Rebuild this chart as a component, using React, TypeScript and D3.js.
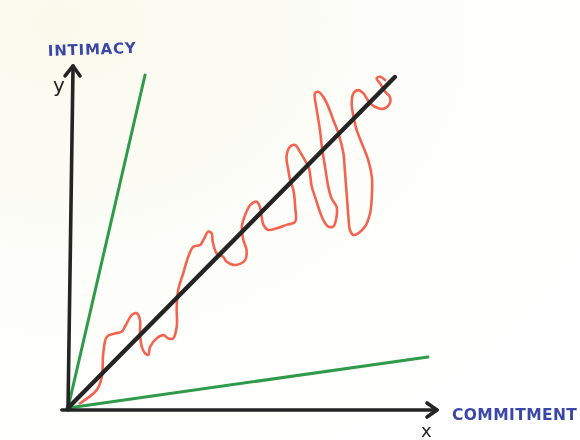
import React from "react";
import * as d3 from "d3";

// Data (units 0–100 on both axes)
const xAxisLine: [number, number][] = [[-1.7, -0.6], [102.5, -0.6]];
const yAxisLine: [number, number][] = [[0, -0.6], [1.4, 101.8]];
const diagonal: [number, number][] = [[0, 0], [90.8, 98.5]];
const greenUpper: [number, number][] = [[0, 0], [21.4, 99.1]];
const greenLower: [number, number][] = [[0, 0], [100, 15.2]];

const squiggleX = [
  3.3, 8.0, 9.4, 9.8, 10.8, 13.1, 14.9, 16.3, 17.7, 19.1, 20.0, 20.0, 20.5, 21.4, 22.3, 22.8, 24.6, 26.5, 27.9, 29.2,
  30.2, 30.2, 30.6, 32.0, 33.4, 34.8, 36.7, 37.6, 39.0, 39.9, 40.2, 41.3, 43.1, 44.1, 45.9, 47.8, 49.2, 49.6, 48.7, 48.3,
  49.2, 50.6, 52.4, 53.3, 53.8, 54.3, 55.6, 58.0, 60.7, 63.1, 63.1, 62.6, 61.7, 61.2, 60.7, 61.7, 63.1, 64.4, 65.8, 66.8,
  67.2, 67.7, 68.6, 69.5, 70.9, 72.3, 73.7, 74.6, 74.6, 73.2, 72.3, 71.4, 70.5, 70.0, 69.1, 68.6, 69.5, 70.9, 72.3, 73.7,
  75.1, 76.5, 76.9, 77.4, 77.9, 78.3, 79.2, 80.6, 82.5, 83.9, 84.4, 84.4, 83.4, 81.6, 80.2, 79.3, 78.8, 79.3, 80.6, 82.0,
  83.9, 86.2, 88.1, 89.4, 89.4, 88.1, 86.7, 85.7, 86.7, 88.1,
];
const squiggleY = [
  1.4, 5.4, 9.3, 16.3, 21.2, 22.2, 22.7, 25.2, 27.7, 28.2, 26.2, 22.2, 18.2, 16.3, 15.8, 18.2, 20.7, 21.7, 20.7, 20.7,
  24.2, 30.1, 35.1, 40.1, 45.0, 48.0, 48.5, 50.0, 52.5, 52.0, 49.5, 46.0, 45.0, 43.5, 42.6, 42.9, 44.0, 47.0, 50.0, 54.0,
  57.4, 60.4, 61.4, 59.9, 56.9, 54.5, 53.0, 53.5, 54.5, 55.4, 59.9, 64.9, 67.9, 70.8, 74.8, 77.8, 78.3, 76.3, 73.8, 71.8,
  69.9, 65.9, 62.9, 59.9, 56.0, 54.0, 54.0, 56.9, 59.9, 62.4, 65.9, 71.8, 77.8, 82.7, 88.7, 93.7, 94.1, 92.6, 89.7, 85.7,
  81.8, 75.8, 70.8, 63.9, 56.9, 53.0, 51.5, 52.0, 54.0, 57.9, 62.9, 68.8, 73.8, 78.8, 82.7, 86.7, 90.7, 93.7, 94.6, 93.7,
  90.7, 89.2, 89.2, 90.7, 92.6, 94.1, 96.6, 98.1, 98.6, 97.6,
];

const yLabel = "INTIMACY";
const xLabel = "COMMITMENT";

const W = 580;
const H = 440;

export default function App() {
  const x = d3.scaleLinear().domain([0, 100]).range([68, 428]);
  const y = d3.scaleLinear().domain([0, 100]).range([408, 72]);
  const line = d3
    .line<[number, number]>()
    .x((d) => x(d[0]))
    .y((d) => y(d[1]));
  const squiggle = squiggleX.map((v, i) => [v, squiggleY[i]] as [number, number]);
  const curve = d3
    .line<[number, number]>()
    .x((d) => x(d[0]))
    .y((d) => y(d[1]))
    .curve(d3.curveCatmullRom.alpha(0.5));

  const yTop = yAxisLine[1];
  const xEnd = xAxisLine[1];
  const ink = "#242424";
  const green = "#2f9a4a";
  const red = "#f26450";
  const blue = "#3b47a6";

  return (
    <svg
      width={W}
      height={H}
      style={{ position: "fixed", left: 0, top: 0 }}
      xmlns="http://www.w3.org/2000/svg"
    >
      <defs>
        <radialGradient id="bg" cx="0.1" cy="0.05" r="1.1">
          <stop offset="0" stopColor="#f9f9ec" />
          <stop offset="0.5" stopColor="#fdfdf9" />
          <stop offset="1" stopColor="#ffffff" />
        </radialGradient>
      </defs>
      <rect width={W} height={H} fill="url(#bg)" />

      {/* green lines */}
      <path d={line(greenUpper) ?? ""} stroke={green} strokeWidth={3} fill="none" strokeLinecap="round" />
      <path d={line(greenLower) ?? ""} stroke={green} strokeWidth={3} fill="none" strokeLinecap="round" />

      {/* red squiggle */}
      <path
        d={curve(squiggle) ?? ""}
        stroke={red}
        strokeWidth={2.6}
        fill="none"
        strokeLinecap="round"
        strokeLinejoin="round"
      />

      {/* axes */}
      <path d={line(yAxisLine) ?? ""} stroke={ink} strokeWidth={3.6} fill="none" strokeLinecap="round" />
      <path d={line(xAxisLine) ?? ""} stroke={ink} strokeWidth={3.6} fill="none" strokeLinecap="round" />
      <path
        d={`M${x(yTop[0]) - 8},${y(yTop[1]) + 10} L${x(yTop[0])},${y(yTop[1])} L${x(yTop[0]) + 7},${y(yTop[1]) + 10}`}
        stroke={ink}
        strokeWidth={3.6}
        fill="none"
        strokeLinecap="round"
        strokeLinejoin="round"
      />
      <path
        d={`M${x(xEnd[0]) - 10},${y(xEnd[1]) - 7} L${x(xEnd[0])},${y(xEnd[1])} L${x(xEnd[0]) - 10},${y(xEnd[1]) + 7}`}
        stroke={ink}
        strokeWidth={3.6}
        fill="none"
        strokeLinecap="round"
        strokeLinejoin="round"
      />

      {/* diagonal */}
      <path d={line(diagonal) ?? ""} stroke={ink} strokeWidth={4.4} fill="none" strokeLinecap="round" />

      {/* labels */}
      <text
        x={48}
        y={56}
        fill={blue}
        fontFamily="DejaVu Sans, sans-serif"
        fontWeight="bold"
        fontSize={15}
        letterSpacing={0.8}
        transform="rotate(-2 48 56)"
      >
        {yLabel}
      </text>
      <text x={452} y={420} fill={blue} fontFamily="DejaVu Sans, sans-serif" fontWeight="bold" fontSize={15.5} letterSpacing={0.4}>
        {xLabel}
      </text>
      <text x={53} y={92} fill={ink} fontFamily="DejaVu Sans, sans-serif" fontSize={20}>
        y
      </text>
      <text x={421} y={437} fill={ink} fontFamily="DejaVu Sans, sans-serif" fontSize={18}>
        x
      </text>
    </svg>
  );
}
